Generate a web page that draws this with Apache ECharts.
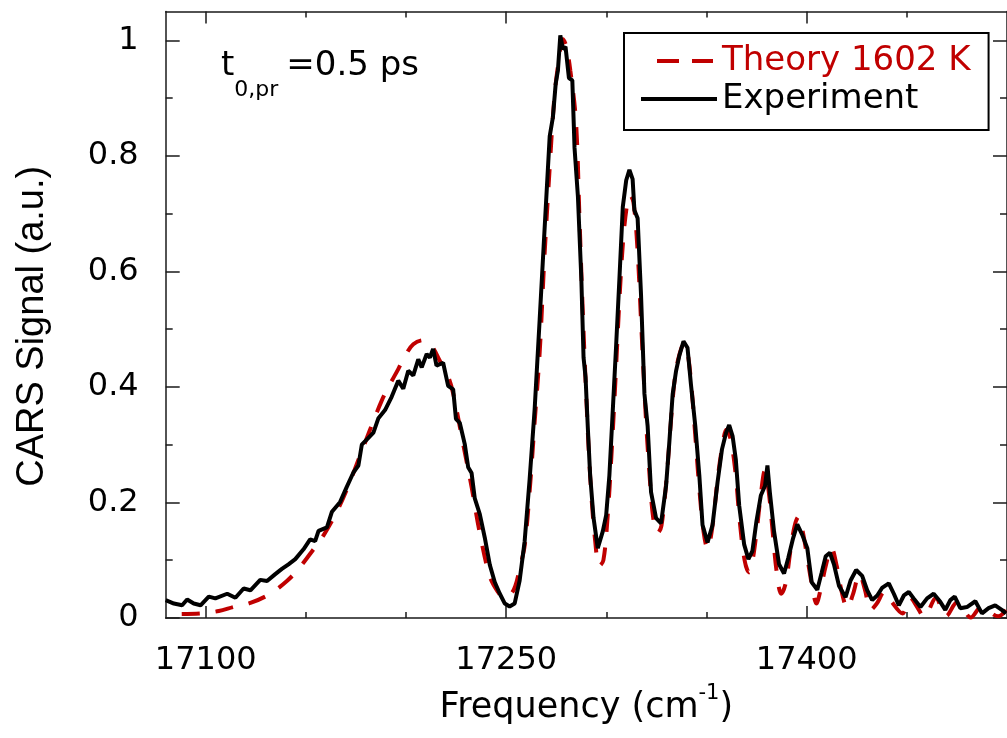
<!DOCTYPE html>
<html><head><meta charset="utf-8">
<script src="https://cdn.jsdelivr.net/npm/echarts@6/dist/echarts.min.js"></script>
<style>html,body{margin:0;padding:0;background:#fff}#c{width:1007px;height:738px}</style>
</head><body><div id="c"></div>
<script>
// ---- data ----
const expFreq = [17080,17084.1,17088.2,17090.7,17094.0,17097.4,17101.5,17104.8,17110.7,17114.8,17118.9,17122.3,17127.2,17130.6,17134.7,17138.0,17141.3,17144.7,17148.8,17152.1,17154.6,17156.3,17160.5,17163.0,17167.1,17170.4,17173.7,17176.2,17177.9,17181.2,17183.7,17186.2,17189.5,17192.8,17196.1,17198.6,17201.1,17203.6,17206.1,17207.8,17210.3,17211.9,17213.5,17215.2,17218.5,17221.0,17223.5,17224.9,17226.8,17229.3,17231.0,17232.7,17234.3,17236.8,17239.3,17241.8,17244.3,17246.8,17249.3,17251.7,17254.2,17256.7,17259.2,17261.7,17264.2,17266.7,17268.7,17270.3,17271.7,17273.3,17274.7,17275.8,17277.0,17278.3,17279.6,17281.3,17283.0,17284.1,17285.8,17287.5,17288.6,17289.6,17290.7,17291.9,17293.6,17295.7,17298.2,17299.9,17301.5,17303.2,17304.9,17306.5,17308.2,17309.9,17311.5,17313.1,17314.0,17315.6,17317.3,17319.0,17320.6,17322.3,17324.8,17327.3,17329.8,17331.4,17333.1,17334.8,17336.4,17338.5,17340.5,17342.2,17344.4,17346.4,17348.0,17350.5,17353.0,17355.5,17357.7,17359.7,17361.3,17363.0,17364.6,17366.3,17368.8,17370.9,17372.9,17374.9,17377.1,17379.2,17380.4,17381.6,17383.7,17386.2,17388.7,17390.8,17393.2,17395.3,17397.8,17400.3,17402.5,17405.3,17407.5,17409.5,17411.6,17413.6,17416.1,17419.4,17421.9,17424.7,17427.7,17430.2,17432.7,17435.2,17437.6,17441.0,17443.5,17446.0,17448.5,17451.0,17453.4,17456.8,17460.1,17463.4,17466.7,17469.2,17471.7,17473.9,17476.7,17480.0,17484.2,17487.5,17490.8,17494.1,17497.4,17499.5];
const expVal = [0.031,0.025,0.022,0.032,0.025,0.022,0.037,0.034,0.042,0.035,0.051,0.048,0.066,0.064,0.076,0.085,0.093,0.102,0.119,0.136,0.133,0.151,0.157,0.184,0.201,0.227,0.252,0.264,0.300,0.312,0.321,0.346,0.360,0.383,0.411,0.397,0.428,0.420,0.448,0.434,0.457,0.451,0.466,0.437,0.442,0.402,0.396,0.345,0.338,0.301,0.261,0.251,0.207,0.180,0.139,0.092,0.062,0.042,0.025,0.020,0.025,0.065,0.133,0.241,0.362,0.517,0.645,0.746,0.834,0.867,0.925,0.948,1.009,0.985,0.989,0.935,0.931,0.814,0.729,0.587,0.451,0.417,0.332,0.247,0.173,0.121,0.150,0.178,0.247,0.360,0.474,0.587,0.712,0.758,0.776,0.760,0.706,0.692,0.559,0.388,0.332,0.218,0.173,0.164,0.229,0.303,0.388,0.428,0.454,0.479,0.468,0.405,0.332,0.247,0.161,0.131,0.161,0.235,0.292,0.320,0.334,0.315,0.275,0.195,0.127,0.102,0.116,0.167,0.212,0.229,0.264,0.218,0.150,0.093,0.077,0.104,0.138,0.162,0.144,0.121,0.062,0.049,0.079,0.107,0.113,0.093,0.056,0.036,0.065,0.083,0.073,0.048,0.031,0.039,0.052,0.060,0.042,0.022,0.039,0.045,0.034,0.019,0.034,0.042,0.028,0.014,0.031,0.037,0.017,0.019,0.029,0.008,0.017,0.022,0.014,0.008];
const thFreq = [17088,17097.4,17106.5,17113.9,17122.3,17132.2,17140.5,17146.3,17153.8,17158.8,17165.4,17171.2,17177.0,17182.0,17187.8,17192.0,17196.1,17199.5,17203.6,17208.6,17212.7,17216.9,17221.0,17223.5,17228.5,17232.7,17236.8,17241.8,17245.9,17249.0,17252.0,17254.5,17257.0,17259.2,17261.7,17264.2,17266.7,17269.0,17271.7,17274.0,17276.0,17278.3,17280.0,17282.0,17284.8,17286.5,17288.0,17290.0,17292.0,17294.5,17296.5,17298.5,17300.5,17302.5,17304.5,17306.5,17308.5,17310.5,17311.7,17313.5,17315.5,17317.5,17319.5,17321.5,17323.5,17325.6,17327.5,17330.0,17332.0,17334.0,17336.0,17338.7,17340.5,17342.5,17344.5,17346.5,17348.5,17350.5,17353.0,17355.5,17358.0,17359.9,17362.0,17364.5,17366.5,17369.0,17371.2,17373.0,17375.0,17377.0,17379.1,17381.0,17383.0,17385.0,17387.3,17389.5,17392.0,17394.0,17395.8,17398.0,17400.5,17403.0,17404.8,17407.0,17409.5,17412.4,17415.0,17417.5,17420.3,17423.0,17426.4,17429.0,17432.0,17435.0,17438.8,17442.0,17447.8,17451.7,17455.0,17458.7,17464.5,17469.5,17475.3,17481.9,17487.2,17495.6,17499.5];
const thVal = [0.007,0.008,0.012,0.019,0.026,0.042,0.064,0.085,0.119,0.143,0.184,0.229,0.281,0.326,0.376,0.405,0.431,0.454,0.474,0.481,0.471,0.445,0.418,0.389,0.301,0.227,0.147,0.072,0.045,0.035,0.040,0.055,0.090,0.125,0.220,0.340,0.460,0.620,0.780,0.900,0.960,1.002,0.990,0.948,0.861,0.700,0.550,0.380,0.240,0.130,0.090,0.100,0.170,0.280,0.410,0.550,0.660,0.720,0.732,0.720,0.640,0.500,0.360,0.250,0.170,0.147,0.160,0.240,0.330,0.410,0.450,0.474,0.460,0.400,0.310,0.220,0.150,0.120,0.160,0.240,0.300,0.326,0.310,0.250,0.170,0.100,0.079,0.100,0.150,0.210,0.255,0.220,0.150,0.080,0.042,0.060,0.120,0.160,0.175,0.150,0.100,0.050,0.025,0.050,0.090,0.121,0.090,0.045,0.017,0.040,0.076,0.050,0.014,0.025,0.045,0.030,0.008,0.035,0.020,0.002,0.034,0.003,0.028,0.001,0.019,0.003,0.014];
const xTickLabels = [17100, 17250, 17400];
const xMinorTicks = [17100, 17150, 17200, 17250, 17300, 17350, 17400, 17450];
const yTickLabels = [0, 0.2, 0.4, 0.6, 0.8, 1];
const yMinorTicks = [0, 0.1, 0.2, 0.3, 0.4, 0.5, 0.6, 0.7, 0.8, 0.9, 1];
const theoryName = 'Theory 1602 K';
const expName = 'Experiment';

// ---- chart ----
const X_MIN = 17080, X_MAX = 17500, Y_MIN = 0, Y_MAX = 1.05;
const AX = '#1a1a1a';
const RED = '#c00000';
const F = 'DejaVu Sans';

function xAx(pos, ticks, len, showLine, labels) {
  return {
    type: 'value', position: pos, min: X_MIN, max: X_MAX,
    axisLine: { show: showLine, onZero: false, lineStyle: { color: AX, width: 1.5 } },
    axisTick: { show: true, inside: true, length: len, customValues: ticks, lineStyle: { color: AX, width: 1.5 } },
    axisLabel: labels ? { show: true, customValues: labels, margin: 27, fontSize: 32, fontFamily: F, color: '#000', formatter: v => String(v) } : { show: false },
    splitLine: { show: false }
  };
}
function yAx(pos, ticks, len, showLine, labels) {
  return {
    type: 'value', position: pos, min: Y_MIN, max: Y_MAX,
    axisLine: { show: showLine, onZero: false, lineStyle: { color: AX, width: 1.5 } },
    axisTick: { show: true, inside: true, length: len, customValues: ticks, lineStyle: { color: AX, width: 1.5 } },
    axisLabel: labels ? { show: true, customValues: labels, margin: 27, fontSize: 32, fontFamily: F, color: '#000', formatter: v => String(v) } : { show: false },
    splitLine: { show: false }
  };
}

const xAxes = [
  xAx('bottom', xTickLabels, 12, true, xTickLabels),
  xAx('bottom', xMinorTicks, 6, false, null),
  xAx('top', xTickLabels, 12, true, null),
  xAx('top', xMinorTicks, 6, false, null)
];
Object.assign(xAxes[0], {
  name: 'Frequency (cm{sup|-1})', nameLocation: 'middle', nameGap: 65,
  nameTextStyle: { fontSize: 35, fontFamily: F, color: '#000', lineHeight: 50,
    rich: { sup: { fontSize: 21, fontFamily: F, color: '#000', lineHeight: 20, verticalAlign: 'top' } } }
});
const yAxes = [
  yAx('left', yTickLabels, 14, true, yTickLabels),
  yAx('left', yMinorTicks, 7, false, null),
  yAx('right', yTickLabels, 14, true, null),
  yAx('right', yMinorTicks, 7, false, null)
];
Object.assign(yAxes[0], {
  name: 'CARS Signal (a.u.)', nameLocation: 'middle', nameGap: 114,
  nameTextStyle: { fontSize: 38, fontFamily: 'Liberation Sans', color: '#000', padding: [0, 23, 0, 0] }
});

const chart = echarts.init(document.getElementById('c'), null, { renderer: 'canvas' });
chart.setOption({
  animation: false,
  backgroundColor: '#fff',
  grid: { left: 165.7, top: 11.6, width: 843.4, height: 616.4, containLabel: false },
  xAxis: xAxes,
  yAxis: yAxes,
  legend: {
    orient: 'vertical', left: 624, top: 33, padding: [11, 18, 14, 15],
    itemWidth: 76, itemHeight: 20, itemGap: 4,
    borderColor: '#000', borderWidth: 2, backgroundColor: '#fff',
    selectedMode: false,
    textStyle: { fontSize: 34, fontFamily: F, color: '#000' },
    data: [
      { name: theoryName, textStyle: { color: RED }, itemStyle: { opacity: 0 }, lineStyle: { width: 4, type: [0, 16, 22, 13, 21, 10] } },
      { name: expName, itemStyle: { opacity: 0 }, lineStyle: { width: 4 } }
    ]
  },
  graphic: [{
    type: 'text', z: 10,
    style: {
      x: 221, y: 49, align: 'left', verticalAlign: 'top',
      text: '{m|t}{s|0,pr}{m|=0.5 ps}',
      rich: {
        m: { fontSize: 34, fontFamily: F, fill: '#000', lineHeight: 34, verticalAlign: 'top' },
        s: { fontSize: 22, fontFamily: F, fill: '#000', lineHeight: 22, verticalAlign: 'top', padding: [30, 8, 0, 0] }
      }
    }
  }],
  series: [
    { type: 'line', name: theoryName, xAxisIndex: 0, yAxisIndex: 0, symbol: 'none', smooth: 0.35, z: 2,
      lineStyle: { color: RED, width: 4, type: [18, 16] }, itemStyle: { color: RED },
      data: thFreq.map((f, i) => [f, thVal[i]]) },
    { type: 'line', name: expName, xAxisIndex: 0, yAxisIndex: 0, symbol: 'none', z: 3,
      lineStyle: { color: '#000', width: 4 }, itemStyle: { color: '#000' },
      data: expFreq.map((f, i) => [f, expVal[i]]) }
  ]
});
</script></body></html>
